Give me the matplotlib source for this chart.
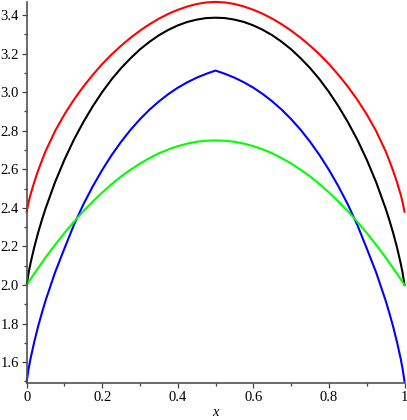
import matplotlib
matplotlib.use("Agg")
import matplotlib.pyplot as plt
from matplotlib.ticker import MultipleLocator, FixedLocator

# Values (left half, x = 0 .. 0.5);
# the reference curves are mirror-symmetric about x = 0.5.
x_left = [0.0, 0.005, 0.01, 0.02, 0.03, 0.04, 0.05, 0.075, 0.1, 0.125, 0.15, 0.175, 0.2,
          0.225, 0.25, 0.275, 0.3, 0.325, 0.35, 0.375, 0.4, 0.425, 0.45, 0.475, 0.5]

red_left = [2.38, 2.429, 2.468, 2.534, 2.592, 2.644, 2.694, 2.798, 2.885, 2.961, 3.029, 3.09, 3.146,
            3.196, 3.241, 3.282, 3.319, 3.352, 3.381, 3.406, 3.427, 3.444, 3.457, 3.465, 3.468]

black_left = [2.0, 2.063, 2.112, 2.196, 2.270, 2.336, 2.397, 2.533, 2.650, 2.754, 2.845, 2.927, 3.001,
              3.067, 3.125, 3.176, 3.222, 3.261, 3.295, 3.323, 3.346, 3.364, 3.376, 3.384, 3.386]

blue_left = [1.5, 1.565, 1.617, 1.705, 1.784, 1.854, 1.92, 2.065, 2.19, 2.312, 2.418, 2.512, 2.597,
             2.674, 2.743, 2.805, 2.86, 2.909, 2.952, 2.99, 3.023, 3.051, 3.075, 3.095, 3.112]

green_left = [2.0, 2.015, 2.030, 2.059, 2.087, 2.115, 2.143, 2.208, 2.27, 2.328, 2.383, 2.433, 2.48,
              2.523, 2.563, 2.598, 2.63, 2.658, 2.683, 2.703, 2.72, 2.733, 2.743, 2.748, 2.75]

x_ticks = [0, 0.2, 0.4, 0.6, 0.8, 1]
x_tick_labels = ["0", "0.2", "0.4", "0.6", "0.8", "1"]
y_ticks = [1.6, 1.8, 2.0, 2.2, 2.4, 2.6, 2.8, 3.0, 3.2, 3.4]
y_tick_labels = ["1.6", "1.8", "2.0", "2.2", "2.4", "2.6", "2.8", "3.0", "3.2", "3.4"]

x_vals = x_left + [1.0 - v for v in x_left[-2::-1]]


def mirror(vals):
    return vals + vals[-2::-1]


W, H = 407, 420
fig = plt.figure(figsize=(W / 100, H / 100), dpi=100)
left, right = 26.7, 404.5
top, bottom = 1.7, 383.0
ax = fig.add_axes([left / W, (H - bottom) / H, (right - left) / W, (bottom - top) / H])

lw = 1.5
for vals, col in [(red_left, "#ff0000"), (black_left, "#000000"),
                  (blue_left, "#0000ff"), (green_left, "#00ff00")]:
    ax.plot(x_vals, mirror(vals), color=col, lw=lw, clip_on=False, solid_joinstyle="miter")

ax.set_xlim(0, 1)
ax.set_ylim(1.492, 3.469)

for s in ["top", "right"]:
    ax.spines[s].set_visible(False)
for s in ["left", "bottom"]:
    ax.spines[s].set_color("#505050")
    ax.spines[s].set_linewidth(1.2)

serif = "Liberation Serif"
ax.xaxis.set_major_locator(FixedLocator(x_ticks))
ax.set_xticklabels(x_tick_labels, fontfamily=serif, fontsize=10.5)
ax.yaxis.set_major_locator(FixedLocator(y_ticks))
ax.set_yticklabels(y_tick_labels, fontfamily=serif, fontsize=10.5)
ax.xaxis.set_minor_locator(MultipleLocator(0.1))
ax.yaxis.set_minor_locator(MultipleLocator(0.1))
ax.tick_params(which="major", direction="out", length=3.5, width=0.9, color="#404040", pad=2)
ax.tick_params(which="minor", direction="out", length=2, width=0.9, color="#404040")

fig.text(215 / W, 1 - 413 / H, "x", fontfamily=serif, fontstyle="italic", fontsize=10.5,
         ha="center", va="center")

fig.savefig("out.png", dpi=100)
